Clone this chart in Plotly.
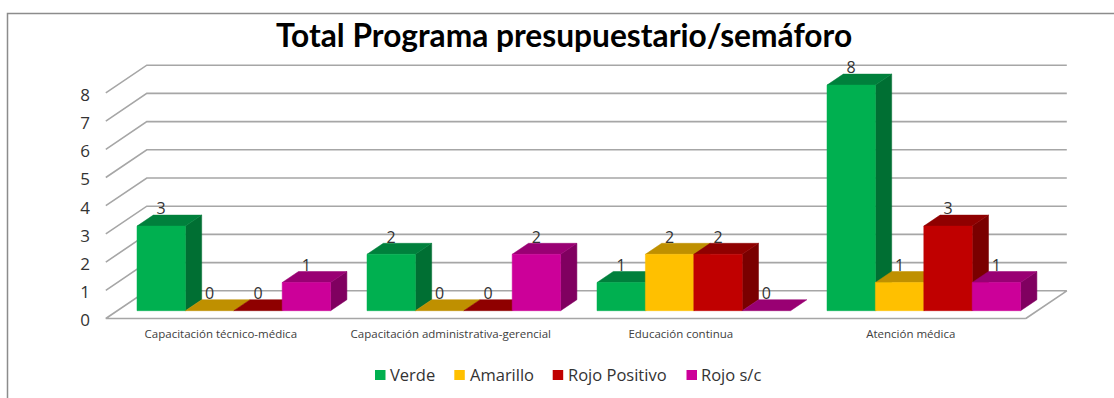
import plotly.graph_objects as go

categories = ["Capacitación técnico-médica", "Capacitación administrativa-gerencial",
              "Educación continua", "Atención médica"]
verde = [3, 2, 1, 8]
amarillo = [0, 0, 2, 1]
rojo_positivo = [0, 0, 2, 3]
rojo_sc = [1, 2, 0, 1]
y_ticks = [0, 1, 2, 3, 4, 5, 6, 7, 8]

series = [
    ("Verde", verde, "#00B050", "#00803C", "#006F33"),
    ("Amarillo", amarillo, "#FFC000", "#BF9000", "#A67C00"),
    ("Rojo Positivo", rojo_positivo, "#C00000", "#8F0000", "#7A0000"),
    ("Rojo s/c", rojo_sc, "#CC0099", "#990073", "#800060"),
]
legend_swatch_px = [375, 454.3, 552.7, 686.5]
legend_text_px = [389, 469, 566.5, 700]

W, H = 1114, 398
PX_CAT = 230.0      # px per category
PX_UNIT = 28.2      # px per value unit
X0_PX = 220.8       # px of category 0
Y0_PX = 318.5       # px of value 0 on front edge of floor
WALL_DX = 41.0 / PX_CAT
WALL_DY = 27.7 / PX_UNIT
BAR_W = 48.4 / PX_CAT
BAR_DX = 16.3 / PX_CAT
BAR_DY = 11.0 / PX_UNIT
LIFT = 7.8 / PX_UNIT            # bar base above front floor edge
BAR_SHIFT = 13.0 / PX_CAT       # group centre shift from category centre
GRID = "#A6A6A6"

fig = go.Figure()


def poly(xs, ys, color):
    fig.add_trace(go.Scatter(x=xs + xs[:1], y=ys + ys[:1], mode="lines", fill="toself",
                             fillcolor=color, line=dict(color=color, width=0.5),
                             showlegend=False, hoverinfo="skip"))


# walls: gridlines
left, right = -0.5, len(categories) - 0.5
for v in y_ticks:
    fig.add_trace(go.Scatter(
        x=[left, left + WALL_DX, right + WALL_DX] if v else [right, left, left + WALL_DX, right + WALL_DX, right],
        y=[v, v + WALL_DY, v + WALL_DY] if v else [0, 0, WALL_DY, WALL_DY, 0],
        mode="lines", line=dict(color=GRID, width=1.6), showlegend=False, hoverinfo="skip"))

# bars, left to right
label_x, label_y, label_t = [], [], []
for c in range(len(categories)):
    for s, (name, vals, front, top, side) in enumerate(series):
        x0 = c + BAR_SHIFT + (s - 2) * BAR_W
        x1 = x0 + BAR_W
        b = LIFT
        t = LIFT + vals[c]
        if vals[c] > 0:
            poly([x1, x1 + BAR_DX, x1 + BAR_DX, x1], [b, b + BAR_DY, t + BAR_DY, t], side)
        poly([x0, x1, x1 + BAR_DX, x0 + BAR_DX], [t, t, t + BAR_DY, t + BAR_DY], top)
        if vals[c] > 0:
            poly([x0, x1, x1, x0], [b, b, t, t], front)
        label_x.append((x0 + x1) / 2)
        label_y.append(t + 0.56)
        label_t.append(str(vals[c]))

fig.add_trace(go.Scatter(x=label_x, y=label_y, text=label_t, mode="text",
                         textposition="middle center",
                         textfont=dict(family="Open Sans", size=16, color="#333333"),
                         showlegend=False, hoverinfo="skip"))

# legend row
shapes = [dict(type="path", xref="paper", yref="paper",
               path=f"M {7.5/W} 0 L {7.5/W} {1-13.5/H} L {1114/W} {1-13.5/H}",
               line=dict(color="#8C8C8C", width=1.5))]
annotations = []
for (name, vals, front, top, side), sx, tx in zip(series, legend_swatch_px, legend_text_px):
    shapes.append(dict(type="rect", xref="paper", yref="paper",
                       x0=sx / W, x1=(sx + 10.5) / W, y0=1 - 380 / H, y1=1 - 370 / H,
                       fillcolor=front, line=dict(width=0)))
    annotations.append(dict(text=name, xref="paper", yref="paper", x=tx / W, y=1 - 374 / H,
                            xanchor="left", yanchor="middle", showarrow=False, xshift=-1,
                            font=dict(family="Open Sans", size=16.5, color="#333333")))

fig.update_layout(
    width=W, height=H, margin=dict(l=0, r=0, t=0, b=0),
    paper_bgcolor="white", plot_bgcolor="white", showlegend=False,
    title=dict(text="<b>Total Programa presupuestario/semáforo</b>", x=564 / W, xanchor="center",
               y=1 - 36 / H, yanchor="middle",
               font=dict(family="Lato", size=31.7, color="black")),
    xaxis=dict(range=[-X0_PX / PX_CAT, (W - X0_PX) / PX_CAT],
               tickmode="array", tickvals=list(range(len(categories))), ticktext=categories,
               showgrid=False, zeroline=False, showline=False, ticks="",
               anchor="free", position=1 - 325 / H,
               tickfont=dict(family="Open Sans", size=11.5, color="#404040")),
    yaxis=dict(range=[(Y0_PX - H) / PX_UNIT, Y0_PX / PX_UNIT],
               tickmode="array", tickvals=y_ticks,
               showgrid=False, zeroline=False, showline=False, ticks="",
               anchor="free", position=90 / W, ticklabelshift=2,
               tickfont=dict(family="Open Sans", size=17, color="#333333")),
    shapes=shapes, annotations=annotations,
)

fig.write_html("out.html", config={"displayModeBar": False},
               post_script="document.body.style.margin='0';")
